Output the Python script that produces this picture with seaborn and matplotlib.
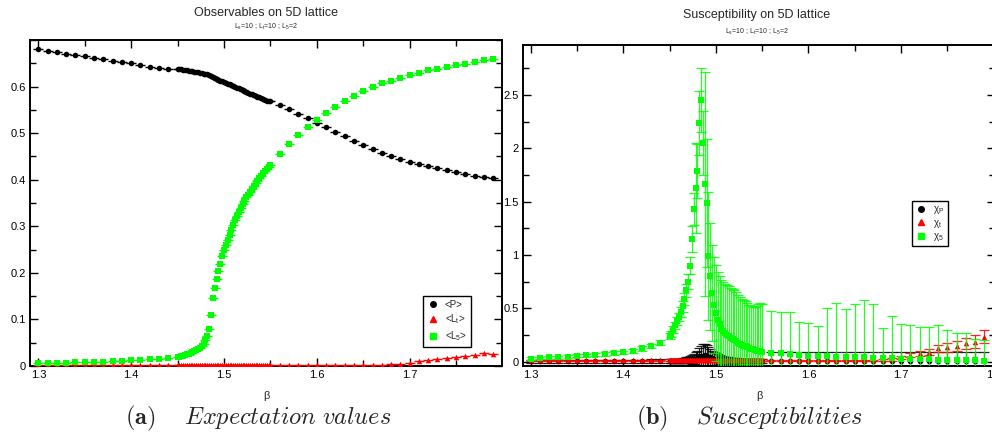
import matplotlib
matplotlib.use("Agg")
import matplotlib.pyplot as plt
import seaborn as sns
from matplotlib.lines import Line2D
from matplotlib.ticker import MultipleLocator

sns.set_style("ticks")
plt.rcParams["font.family"] = ["Liberation Sans", "DejaVu Sans"]

# ---------------------------------------------------------------- beta grid
beta_low = [1.30, 1.31, 1.32, 1.33, 1.34, 1.35, 1.36, 1.37, 1.38, 1.39,
            1.40, 1.41, 1.42, 1.43, 1.44]
beta_mid = [1.450, 1.452, 1.454, 1.456, 1.458, 1.460, 1.462, 1.464, 1.466, 1.468,
            1.470, 1.472, 1.474, 1.476, 1.478, 1.480, 1.482, 1.484, 1.486, 1.488,
            1.490, 1.492, 1.494, 1.496, 1.498, 1.500, 1.502, 1.504, 1.506, 1.508,
            1.510, 1.512, 1.514, 1.516, 1.518, 1.520, 1.522, 1.524, 1.526, 1.528,
            1.530, 1.532, 1.534, 1.536, 1.538, 1.540, 1.542, 1.544, 1.546, 1.548,
            1.550]
beta_high = [1.56, 1.57, 1.58, 1.59, 1.60, 1.61, 1.62, 1.63, 1.64, 1.65,
             1.66, 1.67, 1.68, 1.69, 1.70, 1.71, 1.72, 1.73, 1.74, 1.75,
             1.76, 1.77, 1.78, 1.79]

# ------------------------------------------------------- expectation values
P_low = [0.681, 0.677, 0.674, 0.671, 0.668, 0.665, 0.662, 0.659, 0.655, 0.652,
         0.650, 0.646, 0.643, 0.640, 0.637]
P_mid = [0.638, 0.637, 0.637, 0.636, 0.636, 0.635, 0.634, 0.634, 0.633, 0.632,
         0.632, 0.631, 0.630, 0.629, 0.628, 0.627, 0.626, 0.624, 0.622, 0.620,
         0.619, 0.617, 0.615, 0.613, 0.612, 0.610, 0.608, 0.606, 0.605, 0.603,
         0.601, 0.599, 0.598, 0.596, 0.594, 0.592, 0.591, 0.589, 0.587, 0.585,
         0.584, 0.582, 0.580, 0.578, 0.577, 0.575, 0.573, 0.571, 0.570, 0.569,
         0.568]
P_high = [0.560, 0.551, 0.542, 0.532, 0.522, 0.513, 0.503, 0.493, 0.484, 0.475,
          0.466, 0.458, 0.451, 0.445, 0.439, 0.434, 0.429, 0.425, 0.421, 0.417,
          0.413, 0.409, 0.406, 0.403]

Lt_low = [0.002, 0.002, 0.002, 0.002, 0.002, 0.002, 0.002, 0.002, 0.002, 0.002,
          0.002, 0.002, 0.002, 0.002, 0.002]
Lt_mid = [0.002, 0.002, 0.002, 0.002, 0.002, 0.002, 0.002, 0.002, 0.002, 0.002,
          0.002, 0.002, 0.002, 0.002, 0.002, 0.002, 0.002, 0.002, 0.002, 0.002,
          0.002, 0.002, 0.002, 0.002, 0.002, 0.002, 0.002, 0.002, 0.002, 0.002,
          0.002, 0.002, 0.002, 0.002, 0.002, 0.002, 0.002, 0.002, 0.002, 0.002,
          0.002, 0.002, 0.002, 0.002, 0.002, 0.002, 0.002, 0.002, 0.002, 0.002,
          0.002]
Lt_high = [0.002, 0.002, 0.002, 0.002, 0.002, 0.002, 0.002, 0.002, 0.002, 0.003,
           0.003, 0.003, 0.004, 0.005, 0.007, 0.010, 0.013, 0.015, 0.018, 0.020,
           0.022, 0.023, 0.027, 0.026]

L5_low = [0.006, 0.006, 0.007, 0.007, 0.008, 0.008, 0.009, 0.009, 0.010, 0.011,
          0.012, 0.013, 0.014, 0.016, 0.018]
L5_mid = [0.019, 0.020, 0.021, 0.022, 0.023, 0.025, 0.026, 0.028, 0.030, 0.032,
          0.034, 0.036, 0.039, 0.043, 0.048, 0.055, 0.064, 0.080, 0.110, 0.145,
          0.168, 0.186, 0.204, 0.220, 0.236, 0.249, 0.260, 0.271, 0.282, 0.293,
          0.303, 0.313, 0.322, 0.331, 0.339, 0.347, 0.355, 0.362, 0.368, 0.374,
          0.380, 0.386, 0.392, 0.398, 0.403, 0.409, 0.414, 0.419, 0.424, 0.428,
          0.432]
L5_high = [0.455, 0.476, 0.495, 0.513, 0.529, 0.544, 0.557, 0.569, 0.580, 0.590,
           0.599, 0.607, 0.613, 0.619, 0.625, 0.630, 0.635, 0.638, 0.642, 0.646,
           0.649, 0.653, 0.656, 0.660]

# ----------------------------------------------------------- susceptibilities
chiP_low = [0.004, 0.004, 0.004, 0.004, 0.004, 0.004, 0.004, 0.004, 0.004, 0.005,
            0.005, 0.005, 0.005, 0.006, 0.006]
chiP_mid = [0.006, 0.007, 0.007, 0.008, 0.008, 0.009, 0.010, 0.011, 0.012, 0.014,
            0.016, 0.019, 0.022, 0.026, 0.030, 0.035, 0.042, 0.050, 0.058, 0.060,
            0.055, 0.048, 0.040, 0.034, 0.029, 0.025, 0.022, 0.019, 0.017, 0.015,
            0.013, 0.012, 0.011, 0.010, 0.009, 0.009, 0.008, 0.008, 0.007, 0.007,
            0.007, 0.006, 0.006, 0.006, 0.006, 0.005, 0.005, 0.005, 0.005, 0.005,
            0.005]
chiP_high = [0.005, 0.005, 0.005, 0.005, 0.005, 0.005, 0.005, 0.005, 0.005, 0.005,
             0.005, 0.005, 0.005, 0.005, 0.005, 0.005, 0.005, 0.005, 0.005, 0.005,
             0.005, 0.005, 0.005, 0.005]
chiP_err_low = [0.012, 0.012, 0.012, 0.012, 0.012, 0.012, 0.012, 0.012, 0.012, 0.014,
                0.014, 0.014, 0.014, 0.015, 0.015]
chiP_err_mid = [0.015, 0.016, 0.016, 0.017, 0.018, 0.019, 0.020, 0.022, 0.024, 0.026,
                0.030, 0.034, 0.040, 0.048, 0.060, 0.070, 0.085, 0.100, 0.110, 0.110,
                0.100, 0.090, 0.080, 0.070, 0.060, 0.055, 0.050, 0.045, 0.040, 0.036,
                0.034, 0.032, 0.030, 0.028, 0.026, 0.025, 0.024, 0.023, 0.022, 0.021,
                0.020, 0.020, 0.020, 0.020, 0.020, 0.020, 0.020, 0.020, 0.020, 0.020,
                0.020]
chiP_err_high = [0.085, 0.085, 0.085, 0.085, 0.085, 0.085, 0.085, 0.085, 0.085, 0.085,
                 0.085, 0.085, 0.085, 0.085, 0.085, 0.085, 0.085, 0.085, 0.085, 0.085,
                 0.085, 0.085, 0.085, 0.085]

chit_low = [0.012, 0.012, 0.012, 0.012, 0.012, 0.012, 0.012, 0.012, 0.012, 0.012,
            0.012, 0.012, 0.012, 0.012, 0.012]
chit_mid = [0.014, 0.014, 0.014, 0.015, 0.015, 0.015, 0.015, 0.016, 0.016, 0.016,
            0.017, 0.017, 0.017, 0.018, 0.018, 0.018, 0.018, 0.018, 0.018, 0.018,
            0.018, 0.018, 0.018, 0.017, 0.017, 0.017, 0.017, 0.016, 0.016, 0.016,
            0.016, 0.016, 0.015, 0.015, 0.015, 0.015, 0.015, 0.015, 0.014, 0.014,
            0.014, 0.014, 0.014, 0.014, 0.014, 0.013, 0.013, 0.013, 0.013, 0.013,
            0.013]
chit_high = [0.012, 0.012, 0.012, 0.012, 0.012, 0.012, 0.012, 0.012, 0.012, 0.012,
             0.012, 0.012, 0.015, 0.022, 0.040, 0.063, 0.080, 0.090, 0.125, 0.135,
             0.147, 0.172, 0.187, 0.234]
chit_err_low = [0.006, 0.006, 0.006, 0.006, 0.006, 0.006, 0.006, 0.006, 0.006, 0.006,
                0.006, 0.006, 0.006, 0.006, 0.006]
chit_err_mid = [0.008, 0.008, 0.008, 0.008, 0.008, 0.008, 0.008, 0.008, 0.008, 0.008,
                0.008, 0.008, 0.008, 0.008, 0.008, 0.008, 0.008, 0.008, 0.008, 0.008,
                0.008, 0.008, 0.008, 0.008, 0.008, 0.008, 0.008, 0.008, 0.008, 0.008,
                0.008, 0.008, 0.008, 0.008, 0.008, 0.008, 0.008, 0.008, 0.008, 0.008,
                0.008, 0.008, 0.008, 0.008, 0.008, 0.008, 0.008, 0.008, 0.008, 0.008,
                0.008]
chit_err_high = [0.006, 0.006, 0.006, 0.006, 0.006, 0.006, 0.006, 0.006, 0.006, 0.006,
                 0.006, 0.008, 0.010, 0.012, 0.015, 0.018, 0.022, 0.026, 0.035, 0.040,
                 0.045, 0.050, 0.060, 0.060]

chi5_low = [0.030, 0.037, 0.040, 0.043, 0.048, 0.056, 0.060, 0.065, 0.072, 0.080,
            0.088, 0.100, 0.125, 0.147, 0.178]
chi5_mid = [0.240, 0.262, 0.300, 0.340, 0.380, 0.420, 0.465, 0.520, 0.585, 0.670,
            0.750, 0.900, 1.150, 1.430, 1.630, 1.790, 2.240, 2.450, 2.050, 1.665,
            1.485, 0.990, 0.800, 0.640, 0.530, 0.455, 0.390, 0.350, 0.310, 0.285,
            0.265, 0.250, 0.237, 0.225, 0.213, 0.200, 0.190, 0.178, 0.168, 0.160,
            0.152, 0.145, 0.138, 0.130, 0.122, 0.116, 0.110, 0.105, 0.100, 0.097,
            0.094]
chi5_high = [0.084, 0.078, 0.072, 0.063, 0.056, 0.053, 0.050, 0.047, 0.045, 0.042,
             0.040, 0.037, 0.035, 0.032, 0.030, 0.027, 0.025, 0.022, 0.020, 0.018,
             0.016, 0.014, 0.012, 0.010]
chi5_err_low = [0.012, 0.012, 0.012, 0.013, 0.013, 0.014, 0.014, 0.015, 0.015, 0.016,
                0.017, 0.018, 0.020, 0.022, 0.025]
chi5_err_mid = [0.027, 0.030, 0.032, 0.035, 0.038, 0.040, 0.045, 0.050, 0.055, 0.060,
                0.070, 0.080, 0.120, 0.150, 0.420, 0.250, 0.300, 0.300, 0.300, 1.050,
                0.600, 0.600, 0.500, 0.450, 0.450, 0.450, 0.450, 0.450, 0.460, 0.460,
                0.460, 0.470, 0.470, 0.470, 0.470, 0.470, 0.460, 0.450, 0.440, 0.430,
                0.430, 0.420, 0.410, 0.400, 0.400, 0.400, 0.400, 0.420, 0.440, 0.450,
                0.450]
chi5_err_high = [0.390, 0.390, 0.390, 0.310, 0.310, 0.280, 0.450, 0.500, 0.450, 0.500,
                 0.540, 0.500, 0.280, 0.400, 0.320, 0.320, 0.300, 0.300, 0.320, 0.280,
                 0.250, 0.260, 0.200, 0.190]

beta = beta_low + beta_mid + beta_high

BLACK, RED, GREEN = "#000000", "#ff0000", "#00ff00"
SERIES_STYLE = {"P": (BLACK, "o"), "t": (RED, "^"), "5": (GREEN, "s")}

fig = plt.figure(figsize=(9.92, 4.36), dpi=100)
axL = fig.add_axes([30 / 992, 1 - 366 / 436, 472 / 992, 326 / 436])
axR = fig.add_axes([522.7 / 992, 1 - 366 / 436, 472.5 / 992, 321 / 436])


def style_axes(ax):
    for sp in ax.spines.values():
        sp.set_visible(True)
        sp.set_linewidth(1.4)
        sp.set_color("black")
    ax.tick_params(which="both", direction="in", top=True, right=True,
                   labelsize=8, width=1, colors="black", pad=3)
    ax.tick_params(which="major", length=6)
    ax.tick_params(which="minor", length=4)
    ax.xaxis.set_major_locator(MultipleLocator(0.1))
    ax.xaxis.set_minor_locator(MultipleLocator(0.05))
    ax.set_xlabel("β", fontsize=8, labelpad=8)
    ax.set_ylabel("")


# ------------------------------------------------------------ left panel
left_series = [("P", P_low + P_mid + P_high),
               ("t", Lt_low + Lt_mid + Lt_high),
               ("5", L5_low + L5_mid + L5_high)]
for z, (key, vals) in enumerate(left_series):
    col, mk = SERIES_STYLE[key]
    sns.scatterplot(x=beta, y=vals, marker=mk, color=col, s=16, linewidth=0,
                    ax=axL, zorder=3 + z, legend=False)
    axL.scatter(beta, vals, marker="_", s=42, linewidths=1.0, color=col,
                zorder=3 + z)

axL.set_xlim(1.291, 1.7995)
axL.set_ylim(0.0, 0.7)
axL.yaxis.set_major_locator(MultipleLocator(0.1))
axL.yaxis.set_minor_locator(MultipleLocator(0.05))
axL.set_yticks([0, 0.1, 0.2, 0.3, 0.4, 0.5, 0.6])
axL.set_yticklabels(["0", "0.1", "0.2", "0.3", "0.4", "0.5", "0.6"])
style_axes(axL)

# ------------------------------------------------------------ right panel
right_series = [("P", chiP_low + chiP_mid + chiP_high,
                 chiP_err_low + chiP_err_mid + chiP_err_high),
                ("t", chit_low + chit_mid + chit_high,
                 chit_err_low + chit_err_mid + chit_err_high),
                ("5", chi5_low + chi5_mid + chi5_high,
                 chi5_err_low + chi5_err_mid + chi5_err_high)]
for z, (key, vals, errs) in enumerate(right_series):
    col, mk = SERIES_STYLE[key]
    axR.errorbar(beta, vals, yerr=errs, fmt="none", ecolor=col, elinewidth=0.9,
                 capsize=3.5, capthick=0.9, alpha=0.85, zorder=3 + 2 * z)
    sns.scatterplot(x=beta, y=vals, marker=mk, color=col, s=16, linewidth=0,
                    ax=axR, zorder=4 + 2 * z, legend=False)

axR.set_xlim(1.2914, 1.8016)
axR.set_ylim(-0.04, 2.97)
axR.yaxis.set_major_locator(MultipleLocator(0.5))
axR.yaxis.set_minor_locator(MultipleLocator(0.25))
axR.set_yticks([0, 0.5, 1, 1.5, 2, 2.5])
axR.set_yticklabels(["0", "0.5", "1", "1.5", "2", "2.5"])
style_axes(axR)

# ------------------------------------------------------------ legends
def legend_handles(labels):
    hs = []
    for key, lab in labels:
        col, mk = SERIES_STYLE[key]
        hs.append(Line2D([], [], linestyle="none", marker=mk, color=col,
                         markersize=4, label=lab))
    return hs


legL = axL.legend(handles=legend_handles([("P", "<P>"), ("t", r"<L$_\mathregular{t}$>"),
                                          ("5", r"<L$_\mathregular{5}$>")]),
                  loc="upper left", bbox_to_anchor=(0.833, 0.215),
                  fontsize=7, frameon=True, fancybox=False, borderpad=0.4,
                  handlelength=1.2, handletextpad=0.6, labelspacing=0.28,
                  borderaxespad=0)
legR = axR.legend(handles=legend_handles([("P", r"χ$_\mathregular{P}$"),
                                          ("t", r"χ$_\mathregular{t}$"),
                                          ("5", r"χ$_\mathregular{5}$")]),
                  loc="upper left", bbox_to_anchor=(0.824, 0.515),
                  fontsize=7, frameon=True, fancybox=False, borderpad=0.35,
                  handlelength=1.2, handletextpad=0.6, labelspacing=0.15,
                  borderaxespad=0)
for leg in (legL, legR):
    fr = leg.get_frame()
    fr.set_edgecolor("black")
    fr.set_linewidth(1.0)
    fr.set_facecolor("white")
    fr.set_alpha(1)

# ------------------------------------------------------------ titles
fig.text(266 / 992, 1 - 13 / 436, "Observables on 5D lattice", ha="center",
         va="center", fontsize=9)
fig.text(266 / 992, 1 - 27 / 436, r"L$_\mathregular{s}$=10 ; L$_\mathregular{t}$=10 ; L$_\mathregular{5}$=2",
         ha="center", va="center", fontsize=5)
fig.text(757 / 992, 1 - 15 / 436, "Susceptibility on 5D lattice", ha="center",
         va="center", fontsize=9)
fig.text(757 / 992, 1 - 32 / 436, r"L$_\mathregular{s}$=10 ; L$_\mathregular{t}$=10 ; L$_\mathregular{5}$=2",
         ha="center", va="center", fontsize=5)

fig.text(258 / 992, 1 - 418 / 436, r"$\mathbf{(a)}\quad\ \mathit{Expectation\ values}$",
         ha="center", va="center", fontsize=17.5, math_fontfamily="cm")
fig.text(750 / 992, 1 - 418 / 436, r"$\mathbf{(b)}\quad\ \mathit{Susceptibilities}$",
         ha="center", va="center", fontsize=17.5, math_fontfamily="cm")

fig.savefig("out.png", dpi=100, facecolor="white")
